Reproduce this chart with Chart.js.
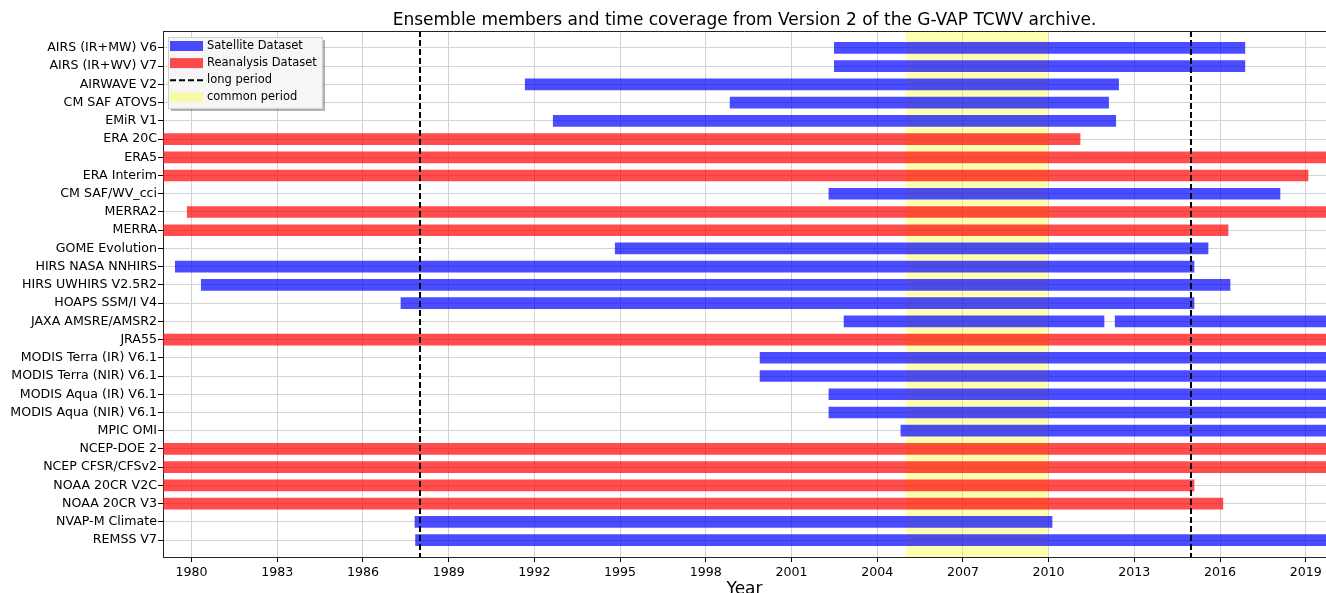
<!DOCTYPE html>
<html>
<head>
<meta charset="utf-8">
<script src="https://cdn.jsdelivr.net/npm/chart.js@4.4.0/dist/chart.umd.min.js"></script>
<style>
html, body { margin: 0; padding: 0; background: #fff; }
</style>
</head>
<body>
<canvas id="gantt" width="1326" height="593"></canvas>
<script>
// dataset names, top to bottom
var names = [
    "AIRS (IR+MW) V6", "AIRS (IR+WV) V7", "AIRWAVE V2", "CM SAF ATOVS", "EMiR V1",
    "ERA 20C", "ERA5", "ERA Interim", "CM SAF/WV_cci", "MERRA2", "MERRA",
    "GOME Evolution", "HIRS NASA NNHIRS", "HIRS UWHIRS V2.5R2", "HOAPS SSM/I V4",
    "JAXA AMSRE/AMSR2", "JRA55", "MODIS Terra (IR) V6.1", "MODIS Terra (NIR) V6.1",
    "MODIS Aqua (IR) V6.1", "MODIS Aqua (NIR) V6.1", "MPIC OMI", "NCEP-DOE 2",
    "NCEP CFSR/CFSv2", "NOAA 20CR V2C", "NOAA 20CR V3", "NVAP-M Climate", "REMSS V7"
];
// s = satellite, r = reanalysis
var kinds = [
    "s", "s", "s", "s", "s",
    "r", "r", "r", "s", "r", "r",
    "s", "s", "s", "s",
    "s", "r", "s", "s",
    "s", "s", "s", "r",
    "r", "r", "r", "s", "s"
];
var starts = [
    2002.5, 2002.5, 1991.68, 1998.85, 1992.66,
    1979, 1979, 1979, 2002.31, 1979.85, 1979,
    1994.83, 1979.43, 1980.34, 1987.33,
    2002.84, 1979, 1999.9, 1999.9,
    2002.31, 2002.31, 2004.83, 1979,
    1979, 1979, 1979, 1987.82, 1987.84
];
var ends = [
    2016.87, 2016.87, 2012.45, 2012.1, 2012.35,
    2011.1, 2020, 2019.08, 2018.1, 2020, 2016.28,
    2015.58, 2015.09, 2016.35, 2015.09,
    2011.94, 2020, 2020, 2020,
    2020, 2020, 2020, 2020,
    2020, 2015.09, 2016.1, 2010.12, 2020
];
// second piece of the JAXA record (AMSR2)
var extraRow = 15;
var extraStart = 2012.33;
var extraEnd = 2020;

var yearTicks = [1980, 1983, 1986, 1989, 1992, 1995, 1998, 2001, 2004, 2007, 2010, 2013, 2016, 2019];
var longPeriod = [1988, 2015];
var commonPeriod = [2005, 2010];

var blue = "rgba(0,0,255,0.7)";
var red = "rgba(255,0,0,0.7)";
var yellow = "rgba(255,255,0,0.3)";

Chart.defaults.font.family = "DejaVu Sans";
Chart.defaults.color = "#000";

function rows(kind) {
    var out = [];
    for (var i = 0; i < names.length; i++) {
        if (kinds[i] == kind) out.push({ x: [starts[i], ends[i]], y: i });
    }
    return out;
}

var overlay = {
    id: "overlay",
    beforeDatasetsDraw: function (chart) {
        var c = chart.ctx, a = chart.chartArea, xs = chart.scales.x;
        var x1 = xs.getPixelForValue(commonPeriod[0]);
        var x2 = xs.getPixelForValue(commonPeriod[1]);
        c.save();
        c.fillStyle = yellow;
        c.fillRect(x1, a.top, x2 - x1, a.bottom - a.top);
        c.restore();
    },
    afterDatasetsDraw: function (chart) {
        var c = chart.ctx, a = chart.chartArea, xs = chart.scales.x;
        c.save();
        c.strokeStyle = "#000";
        c.lineWidth = 2;
        c.setLineDash([6, 3]);
        longPeriod.forEach(function (yr) {
            var x = Math.round(xs.getPixelForValue(yr));
            c.beginPath();
            c.moveTo(x, a.top);
            c.lineTo(x, a.bottom);
            c.stroke();
        });
        c.setLineDash([]);
        // top spine
        c.lineWidth = 1;
        c.strokeStyle = "#222";
        c.beginPath();
        c.moveTo(a.left, a.top + 0.5);
        c.lineTo(a.right, a.top + 0.5);
        c.stroke();

        // legend box
        var bx = a.left + 5, by = a.top + 6, bw = 154, bh = 71;
        c.fillStyle = "rgba(0,0,0,0.3)";
        c.fillRect(bx + 3, by + 3, bw, bh);
        c.fillStyle = "rgba(246,246,246,1)";
        c.fillRect(bx, by, bw, bh);
        c.strokeStyle = "#d0d0d0";
        c.strokeRect(bx + 0.5, by + 0.5, bw, bh);

        var items = [
            { t: "Satellite Dataset", kind: "box", col: blue },
            { t: "Reanalysis Dataset", kind: "box", col: red },
            { t: "long period", kind: "dash" },
            { t: "common period", kind: "box", col: yellow }
        ];
        c.font = "11.5px DejaVu Sans";
        c.textBaseline = "middle";
        c.textAlign = "left";
        items.forEach(function (it, k) {
            var cy = by + 9 + k * 17.1;
            if (it.kind == "box") {
                c.fillStyle = it.col;
                c.fillRect(bx + 2, cy - 5, 33, 10);
            } else {
                c.strokeStyle = "#000";
                c.lineWidth = 2;
                c.setLineDash([6, 3]);
                c.beginPath();
                c.moveTo(bx + 2, cy);
                c.lineTo(bx + 35, cy);
                c.stroke();
                c.setLineDash([]);
            }
            c.fillStyle = "#000";
            c.fillText(it.t, bx + 39, cy);
        });
        c.restore();
    }
};

new Chart(document.getElementById("gantt"), {
    type: "bar",
    data: {
        datasets: [
            { label: "Satellite Dataset", data: rows("s"), backgroundColor: blue },
            { label: "Reanalysis Dataset", data: rows("r"), backgroundColor: red },
            { label: "Satellite Dataset", data: [{ x: [extraStart, extraEnd], y: extraRow }], backgroundColor: blue }
        ]
    },
    options: {
        indexAxis: "y",
        responsive: false,
        animation: false,
        devicePixelRatio: 1,
        layout: { padding: { left: 0, right: 0, top: 0, bottom: 0 } },
        datasets: { bar: { grouped: false, barThickness: 11, borderWidth: 0 } },
        scales: {
            x: {
                type: "linear",
                min: 1979,
                max: 2019.71,
                afterBuildTicks: function (s) { s.ticks = yearTicks.map(function (v) { return { value: v }; }); },
                afterFit: function (s) { s.height = 36; },
                ticks: { font: { size: 12.6 }, padding: 3, maxRotation: 0, callback: function (v) { return String(v); } },
                grid: { color: "#d3d3d3", tickColor: "#000", tickLength: 5 },
                border: { color: "#222", width: 1 },
                title: { display: true, text: "Year", font: { size: 17 }, padding: { top: 0, bottom: -7 } }
            },
            y: {
                type: "linear",
                reverse: true,
                offset: false,
                min: -0.93,
                max: 27.93,
                afterBuildTicks: function (s) { s.ticks = names.map(function (n, i) { return { value: i }; }); },
                afterFit: function (s) { s.width = 163; },
                ticks: { font: { size: 12.6 }, padding: 1, autoSkip: false, callback: function (v) { return names[v]; } },
                grid: { offset: false, color: "#d3d3d3", tickColor: "#000", tickLength: 5 },
                border: { color: "#222", width: 1 }
            }
        },
        plugins: {
            legend: { display: false },
            tooltip: { enabled: false },
            title: {
                display: true,
                fullSize: false,
                text: "Ensemble members and time coverage from Version 2 of the G-VAP TCWV archive.",
                font: { size: 17, weight: "normal" },
                color: "#000",
                padding: { top: 10, bottom: 0.6 }
            }
        }
    },
    plugins: [overlay]
});
</script>
</body>
</html>
